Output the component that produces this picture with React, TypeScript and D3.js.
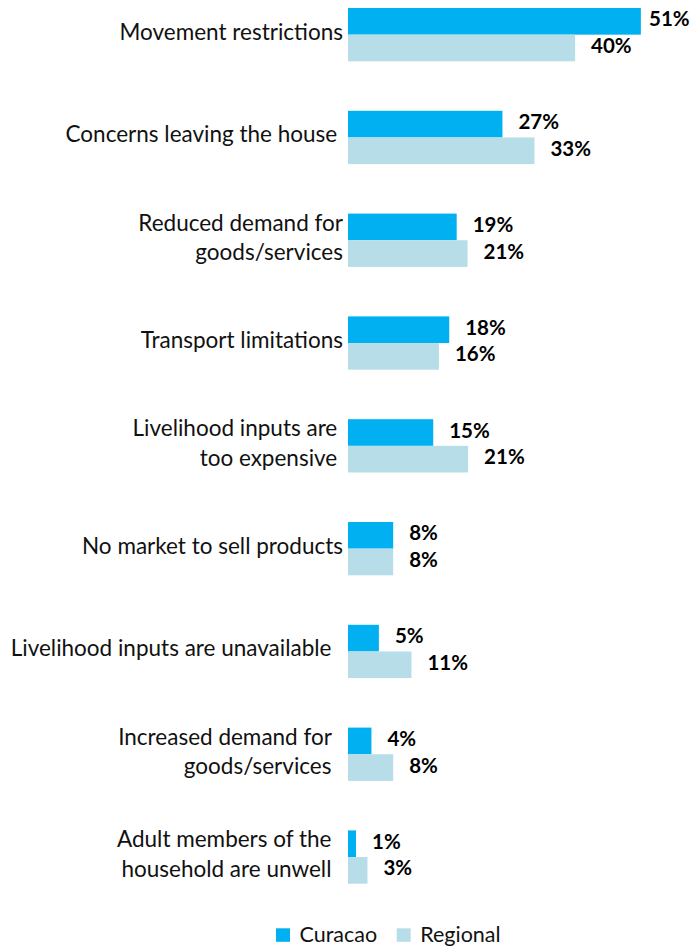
import React from 'react';
import * as d3 from 'd3';

const categories = [
  'Movement restrictions',
  'Concerns leaving the house ',
  'Reduced demand for\ngoods/services',
  'Transport limitations',
  'Livelihood inputs are \ntoo expensive ',
  'No market to sell products',
  'Livelihood inputs are unavailable  ',
  'Increased demand for  \ngoods/services  ',
  'Adult members of the  \nhousehold are unwell  ',
];
const seriesNames = ['Curacao', 'Regional'];
const curacaoValues = [51.2, 27.0, 19.0, 17.7, 14.9, 7.9, 5.4, 4.1, 1.4];
const regionalValues = [39.7, 32.6, 20.9, 15.9, 21.0, 7.9, 11.1, 7.9, 3.4];
const seriesColors = ['#00B0F0', '#B7DEE8'];

const W = 700;
const H = 948;
const FONT = 'Lato, "Noto Sans", sans-serif';

export default function App() {
  const values = [curacaoValues, regionalValues];
  const x = d3.scaleLinear().domain([0, 100]).range([348, 348 + 572]);
  const step = 102.8;
  const pi = 0.4815;
  const start = 8 - (pi / 2) * step;
  const y = d3
    .scaleBand<string>()
    .domain(categories)
    .range([start, start + categories.length * step])
    .paddingInner(pi)
    .paddingOuter(pi / 2);
  const inner = d3.scaleBand<string>().domain(seriesNames).range([0, y.bandwidth()]).padding(0);
  const fmt = (v: number) => `${Math.round(v)}%`;
  const labelX = 343;
  const lineH = 29.5;

  return (
    <svg
      width={W}
      height={H}
      style={{ position: 'absolute', left: 0, top: 0, background: '#fff' }}
      fontFamily={FONT}
    >
      {categories.map((cat, i) => {
        const y0 = y(cat)!;
        const cy = y0 + y.bandwidth() / 2;
        const lines = cat.split('\n');
        return (
          <g key={cat}>
            <text
              textAnchor="end"
              fontSize={22.5}
              fill="#111"
              xmlSpace="preserve"
              style={{ whiteSpace: 'pre' }}
            >
              {lines.map((ln, j) => (
                <tspan key={j} x={labelX} y={cy + 5 + (j - (lines.length - 1) / 2) * lineH}>
                  {ln}
                </tspan>
              ))}
            </text>
            {seriesNames.map((s, k) => {
              const v = values[k][i];
              const by = y0 + inner(s)!;
              const bh = inner.bandwidth();
              const xe = x(v);
              return (
                <g key={s}>
                  <rect x={x(0)} y={by} width={xe - x(0)} height={bh} fill={seriesColors[k]} />
                  <text
                    x={Math.min(xe + 16, 649)}
                    y={by + bh / 2 + 5}
                    fontSize={20.5}
                    fontWeight="bold"
                    fill="#000"
                  >
                    {fmt(v)}
                  </text>
                </g>
              );
            })}
          </g>
        );
      })}
      <g>
        {seriesNames.map((s, k) => {
          const lx = 276 + k * 120.7;
          return (
            <g key={s}>
              <rect x={lx} y={928.3} width={14} height={13.5} fill={seriesColors[k]} />
              <text x={lx + 23.5} y={942} fontSize={21.5} fill="#111">
                {s}
              </text>
            </g>
          );
        })}
      </g>
    </svg>
  );
}
